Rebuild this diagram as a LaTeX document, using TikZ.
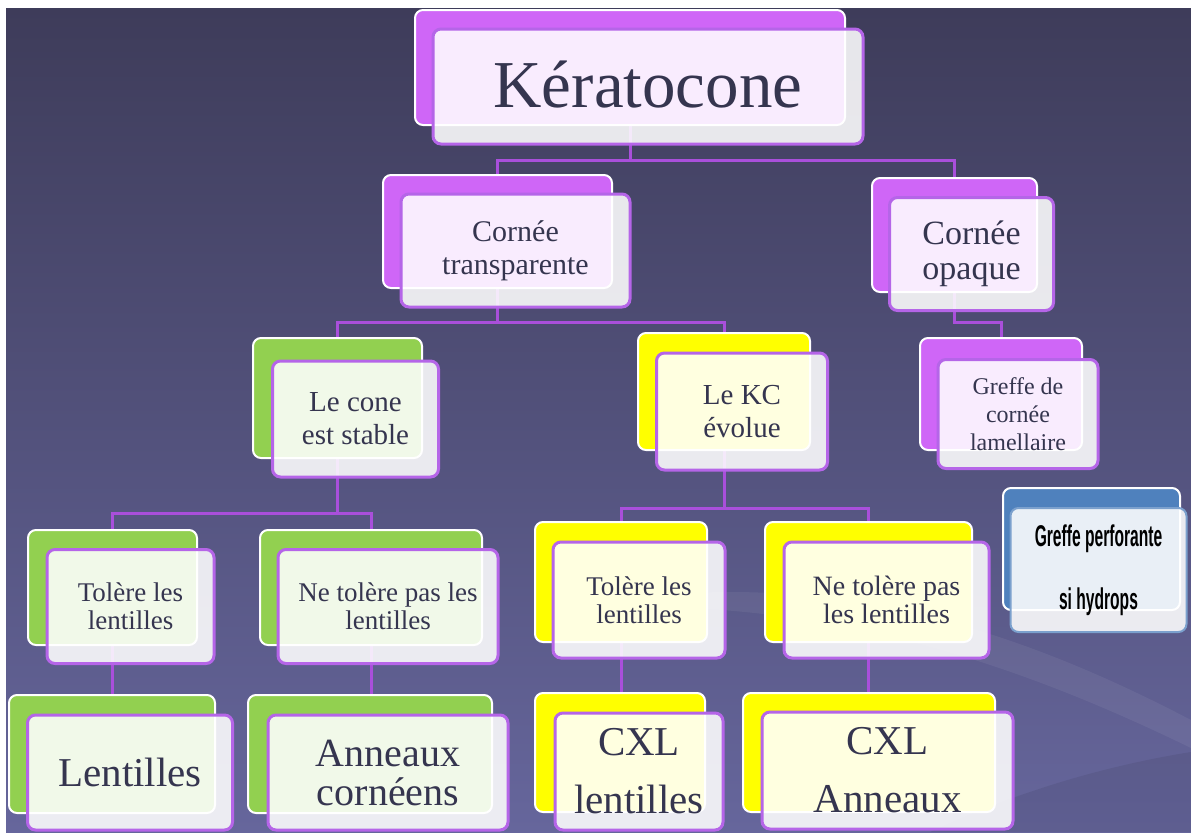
\documentclass[tikz,border=0pt]{standalone}
\usepackage{fontspec}
\setmainfont{Liberation Serif}
\newfontfamily\narrowsans[FakeStretch=0.52]{Liberation Sans}

\definecolor{bgtop}{HTML}{3E3C5A}
\definecolor{bgmid}{HTML}{58588A}
\definecolor{bgbot}{HTML}{66669C}
\definecolor{purpleB}{HTML}{CF66F7}
\definecolor{greenB}{HTML}{92D050}
\definecolor{yellowB}{HTML}{FFFF00}
\definecolor{blueB}{HTML}{4F81BD}
\definecolor{edge}{HTML}{B565E8}
\definecolor{linkc}{HTML}{A94FDB}
\definecolor{ink}{HTML}{35354F}

\pgfdeclarelayer{bg}
\pgfdeclarelayer{wires}
\pgfsetlayers{bg,wires,main}

\begin{document}
\begin{tikzpicture}[x=0.5pt, y=-0.5pt,
  back/.style={draw=white, line width=1pt, rounded corners=4pt, fill=#1, inner sep=0pt},
  front/.style={draw=edge, line width=1.5pt, rounded corners=4pt, fill=white, fill opacity=0.88,
    text opacity=1, text=ink, align=center, inner sep=0pt},
  sz/.style 2 args={minimum width=#1*0.5pt, minimum height=#2*0.5pt},
  fs/.style 2 args={font=\fontsize{#1}{#2}\selectfont},
  link/.style={draw=linkc, line width=1.5pt}]

  % page: white margin top and left, shaded slide
  \useasboundingbox (0,0) rectangle (1191,832);
  \begin{pgfonlayer}{bg}
    \fill[white] (0,0) rectangle (1191,832);
    \shade[top color=bgtop, middle color=bgmid, bottom color=bgbot] (6,8) rectangle (1191,832);
    \fill[white, opacity=0.06] (560,610) .. controls (800,560) and (1000,620) .. (1191,720)
      -- (1191,748) .. controls (1000,655) and (800,592) .. (560,610) -- cycle;
    \fill[black, opacity=0.07] (930,832) .. controls (1020,790) and (1110,765) .. (1191,752) -- (1191,832) -- cycle;
  \end{pgfonlayer}

  % level 1
  \node[back=purpleB, sz={430}{115}] (kerato-b) at (630,67.5) {};
  \node[front, sz={430}{115}, fs={33.5}{38}] (kerato) at ([shift={(18,19)}]kerato-b) {\raisebox{2pt}{Kératocone}};

  % level 2
  \node[back=purpleB, sz={229}{113}] (transp-b) at (497.5,231.5) {};
  \node[front, sz={229}{113}, fs={15}{16.5}] (transp) at ([shift={(18,19)}]transp-b) {Cornée\\transparente};
  \node[back=purpleB, sz={165}{114}] (opaque-b) at (954.5,235) {};
  \node[front, sz={164}{113}, fs={17}{17.5}] (opaque) at ([shift={(17,19)}]opaque-b) {Cornée\\opaque};

  % level 3
  \node[back=greenB, sz={169}{120}] (stable-b) at (337.5,398) {};
  \node[front, sz={166}{116}, fs={14.5}{16.5}] (stable) at ([shift={(18,21)}]stable-b) {Le cone\\est stable};
  \node[back=yellowB, sz={172}{117}] (evolue-b) at (724,391.5) {};
  \node[front, sz={171}{117}, fs={14.5}{16.5}] (evolue) at ([shift={(18,20)}]evolue-b) {Le KC\\évolue};
  \node[back=purpleB, sz={162}{112}] (lamel-b) at (1001,394) {};
  \node[front, sz={160}{109}, fs={12}{14}] (lamel) at ([shift={(17,20)}]lamel-b) {Greffe de\\cornée\\lamellaire};
  \node[back=blueB, sz={177}{122}] (perfo-b) at (1091.5,549) {};
  \node[front, draw=blueB!75!white, line width=1pt, text=black, sz={176}{124},
    font=\narrowsans\bfseries\fontsize{15}{31.5}\selectfont] (perfo) at ([shift={(7,21)}]perfo-b) {Greffe perforante\\si hydrops};

  % level 4
  \node[back=greenB, sz={169}{115}] (tolA-b) at (112.5,587.5) {};
  \node[front, sz={167}{114}, fs={13.5}{14}] (tolA) at ([shift={(18,19)}]tolA-b) {Tolère les\\lentilles};
  \node[back=greenB, sz={222}{115}] (ntolA-b) at (371,587.5) {};
  \node[front, sz={220}{114}, fs={13.5}{14}] (ntolA) at ([shift={(17,19)}]ntolA-b) {Ne tolère pas les\\lentilles};
  \node[back=yellowB, sz={172}{120}] (tolB-b) at (621,582) {};
  \node[front, sz={172}{116}, fs={13.5}{14}] (tolB) at ([shift={(18,18)}]tolB-b) {Tolère les\\lentilles};
  \node[back=yellowB, sz={207}{120}] (ntolB-b) at (868.5,582) {};
  \node[front, sz={205}{116}, fs={14}{14}] (ntolB) at ([shift={(18,18)}]ntolB-b) {Ne tolère pas\\les lentilles};

  % level 5
  \node[back=greenB, sz={206}{118}] (lentA-b) at (112,754) {};
  \node[front, sz={205}{115}, fs={20.5}{24}] (lentA) at ([shift={(18,18.5)}]lentA-b) {Lentilles};
  \node[back=greenB, sz={244}{118}] (annA-b) at (370,754) {};
  \node[front, sz={240}{115}, fs={20}{19.5}] (annA) at ([shift={(18,18.5)}]annA-b) {Anneaux\\cornéens};
  \node[back=yellowB, sz={170}{119}] (cxlA-b) at (620,752.5) {};
  \node[front, sz={168}{117}, fs={20.5}{29}] (cxlA) at ([shift={(19,19)}]cxlA-b) {CXL\\lentilles};
  \node[back=yellowB, sz={252}{119}] (cxlB-b) at (869,752.5) {};
  \node[front, sz={251}{117}, fs={20.5}{29}] (cxlB) at ([shift={(18.5,18)}]cxlB-b) {CXL\\Anneaux};

  % connectors, under the boxes
  \coordinate (bus1) at (0,160);
  \coordinate (bus2) at (0,322);
  \coordinate (bus3) at (0,513);
  \coordinate (bus4) at (0,508);
  \begin{pgfonlayer}{wires}
    \draw[link] (kerato-b.south) -- (kerato-b |- bus1) -| (transp-b.north);
    \draw[link] (kerato-b |- bus1) -| (opaque-b.north);
    \draw[link] (transp-b.south) -- (transp-b |- bus2) -| (stable-b.north);
    \draw[link] (transp-b |- bus2) -| (evolue-b.north);
    \draw[link] (opaque-b.south) -- (opaque-b |- bus2) -| (lamel-b.north);
    \draw[link] (stable-b.south) -- (stable-b |- bus3) -| (tolA-b.north);
    \draw[link] (stable-b |- bus3) -| (ntolA-b.north);
    \draw[link] (evolue-b.south) -- (evolue-b |- bus4) -| (tolB-b.north);
    \draw[link] (evolue-b |- bus4) -| (ntolB-b.north);
    \draw[link] (tolA-b.south) -- (tolA-b |- lentA-b.north);
    \draw[link] (ntolA-b.south) -- (ntolA-b |- annA-b.north);
    \draw[link] (tolB-b.south) -- (tolB-b |- cxlA-b.north);
    \draw[link] (ntolB-b.south) -- (ntolB-b |- cxlB-b.north);
  \end{pgfonlayer}
\end{tikzpicture}
\end{document}
